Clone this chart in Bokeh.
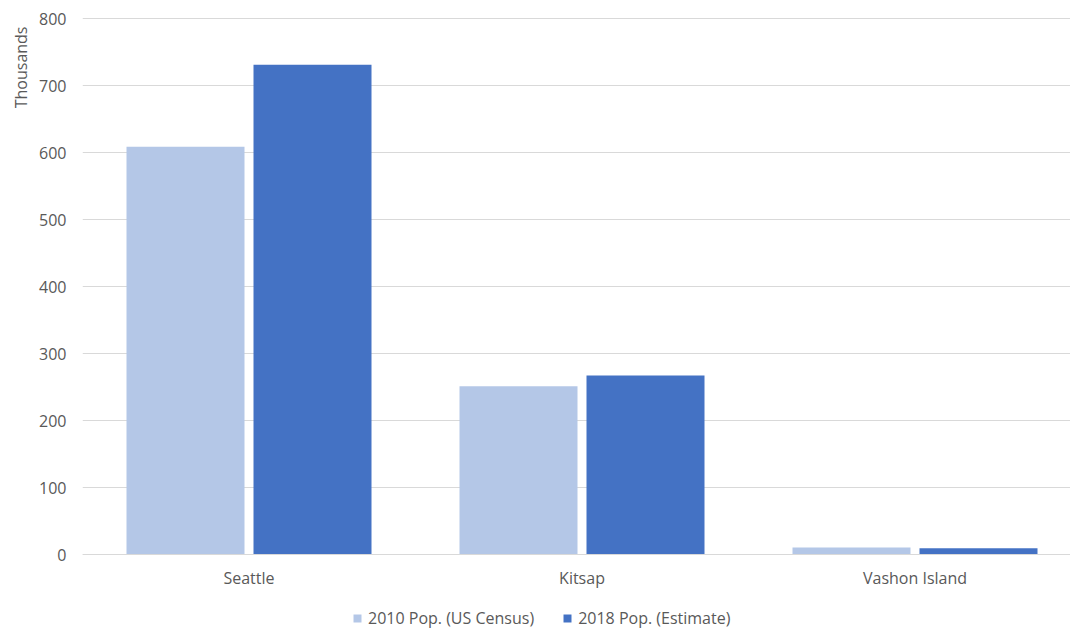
from bokeh.plotting import figure
from bokeh.models import Range1d, FixedTicker, Legend, LegendItem, Title, ColumnDataSource
from bokeh.transform import dodge
from bokeh.embed import file_html
from bokeh.resources import INLINE

categories = ["Seattle", "Kitsap", "Vashon Island"]
pop_2010 = [608.5, 251.0, 10.6]
pop_2018 = [731.0, 267.0, 9.2]
series_names = ["2010 Pop. (US Census)", "2018 Pop. (Estimate)"]
y_ticks = [0, 100, 200, 300, 400, 500, 600, 700, 800]

FONT = "Open Sans"
TXT = "#595959"
FS = "16px"

W, H = 1070, 628
LEFT, TOP = 82, 17
ZERO_PX = 554          # pixel row of value 0
K = 536 / 800          # pixels per thousand
CAT_PX = 333           # pixels per category

y_end = (ZERO_PX - TOP) / K
y_start = y_end - (H - TOP) / K

xpos = [i + 0.5 for i in range(len(categories))]
src = ColumnDataSource(dict(x=xpos, a=pop_2010, b=pop_2018))

p = figure(width=W, height=H, output_backend="svg", toolbar_location=None,
           x_range=Range1d(0, (W - LEFT) / CAT_PX), y_range=Range1d(y_start, y_end),
           min_border_left=LEFT, min_border_right=0, min_border_top=TOP, min_border_bottom=0)
p.outline_line_color = None
p.background_fill_color = "white"

bw = 118 / CAT_PX
off = 127 / 2 / CAT_PX
r1 = p.vbar(x=dodge("x", -off), top="a", width=bw, source=src, fill_color="#B4C7E7", line_color=None)
r2 = p.vbar(x=dodge("x", off), top="b", width=bw, source=src, fill_color="#4472C4", line_color=None)

p.xgrid.visible = False
p.ygrid.grid_line_color = "#D9D9D9"
p.ygrid.grid_line_width = 1

p.xaxis.fixed_location = 0
p.xaxis.ticker = FixedTicker(ticks=xpos)
p.xaxis.major_label_overrides = {x: c for x, c in zip(xpos, categories)}
p.xaxis.axis_line_color = "#D9D9D9"
p.xaxis.major_tick_line_color = None
p.xaxis.major_tick_out = 0
p.xaxis.minor_tick_line_color = None
p.xaxis.major_label_standoff = 12
p.xaxis.major_label_text_font = FONT
p.xaxis.major_label_text_font_size = FS
p.xaxis.major_label_text_color = TXT

p.yaxis.ticker = FixedTicker(ticks=y_ticks)
p.yaxis.axis_line_color = None
p.yaxis.major_tick_line_color = None
p.yaxis.major_tick_out = 0
p.yaxis.minor_tick_line_color = None
p.yaxis.major_label_standoff = 16
p.yaxis.major_label_text_font = FONT
p.yaxis.major_label_text_font_size = FS
p.yaxis.major_label_text_color = TXT

ttl = Title(text="Thousands", align="right", text_font=FONT, text_font_size=FS,
            text_color=TXT, text_font_style="normal", standoff=10, offset=9)
p.add_layout(ttl, "left")

legend = Legend(items=[LegendItem(label=series_names[0], renderers=[r1]),
                       LegendItem(label=series_names[1], renderers=[r2])],
                orientation="horizontal", location=(270, -1),
                glyph_width=10, glyph_height=10, label_standoff=6, spacing=28,
                padding=0, margin=0, border_line_color=None, background_fill_alpha=0,
                label_text_font=FONT, label_text_font_size=FS, label_text_color=TXT)
p.add_layout(legend)

open("out.html", "w").write(file_html(p, INLINE))
